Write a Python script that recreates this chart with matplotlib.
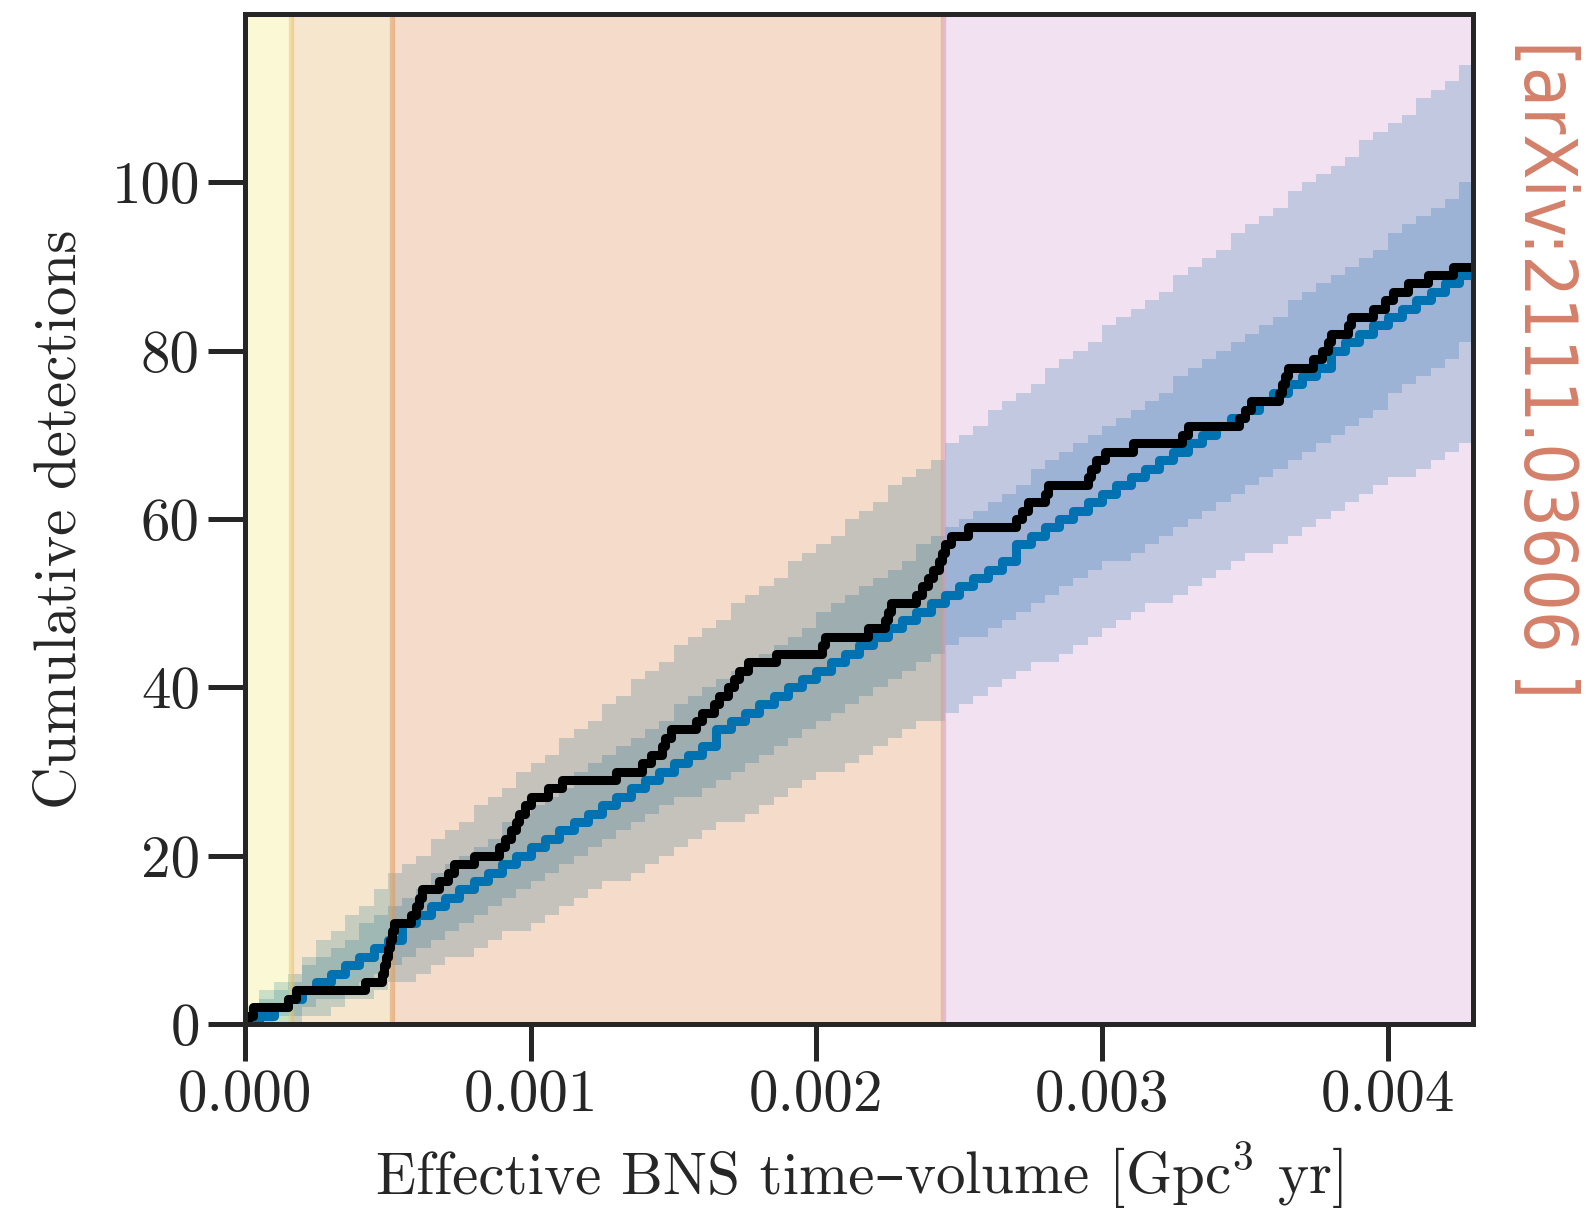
import numpy as np
import matplotlib
matplotlib.use('Agg')
import matplotlib.pyplot as plt
from matplotlib.offsetbox import TextArea, HPacker, AnchoredOffsetbox

plt.rcParams['font.family'] = ['cmr10', 'DejaVu Serif']
plt.rcParams['mathtext.fontset'] = 'cm'
plt.rcParams['axes.formatter.use_mathtext'] = True

## expected counts (median and 1/2 sigma edges), sampled every 5e-5 Gpc^3 yr
median = [0, 1, 2, 3, 4, 5, 6, 7, 8, 9, 10,
          12, 13, 14, 15, 16, 17, 18, 19, 20, 21,
          22, 23, 24, 25, 26, 27, 28, 29, 30, 31,
          32, 33, 35, 36, 37, 38, 39, 40, 41, 42,
          43, 44, 45, 46, 47, 48, 49, 50, 51, 52,
          53, 54, 55, 57, 58, 59, 60, 61, 62, 63,
          64, 65, 66, 67, 68, 69, 70, 71, 72, 73,
          74, 75, 76, 77, 78, 80, 81, 82, 83, 84,
          85, 86, 87, 88, 89, 90]
upper_1sig = [1, 3, 4, 5, 7, 8, 9, 10, 12, 13, 14,
              15, 16, 18, 19, 20, 21, 22, 24, 25, 26,
              27, 28, 30, 31, 32, 33, 34, 35, 36, 38,
              39, 40, 41, 42, 43, 44, 45, 46, 47, 49,
              50, 51, 52, 53, 54, 55, 57, 58, 59, 60,
              61, 62, 63, 64, 66, 67, 68, 69, 70, 71,
              72, 73, 74, 75, 77, 78, 79, 80, 81, 82,
              83, 84, 86, 87, 88, 89, 90, 91, 92, 94,
              95, 96, 97, 98, 100, 100]
lower_1sig = [0, 0, 1, 1, 2, 3, 3, 4, 5, 6, 7,
              8, 9, 10, 11, 12, 13, 14, 15, 16, 17,
              18, 19, 20, 21, 22, 23, 24, 25, 26, 27,
              27, 28, 29, 30, 31, 32, 33, 34, 35, 36,
              37, 38, 39, 40, 41, 42, 43, 44, 45, 46,
              46, 47, 48, 49, 50, 51, 52, 53, 54, 55,
              55, 56, 57, 58, 59, 60, 61, 62, 63, 64,
              65, 66, 67, 68, 69, 70, 71, 72, 73, 75,
              76, 77, 78, 79, 81, 81]
upper_2sig = [2, 4, 5, 6, 8, 10, 11, 13, 14, 16, 18,
              19, 20, 22, 23, 24, 26, 27, 28, 30, 31,
              32, 34, 35, 36, 38, 39, 41, 42, 43, 45,
              46, 47, 48, 50, 51, 52, 53, 55, 56, 57,
              58, 60, 61, 62, 64, 65, 66, 67, 69, 70,
              71, 73, 74, 75, 76, 78, 79, 80, 81, 83,
              84, 85, 86, 87, 89, 90, 91, 92, 94, 95,
              96, 97, 99, 100, 101, 102, 103, 105, 106, 107,
              108, 110, 111, 112, 114, 115]
lower_2sig = [0, 0, 0, 0, 1, 1, 2, 3, 3, 4, 5,
              5, 6, 7, 8, 8, 9, 10, 11, 11, 12,
              13, 14, 15, 16, 17, 17, 18, 19, 20, 21,
              22, 23, 24, 24, 25, 26, 27, 28, 29, 30,
              30, 31, 32, 33, 34, 35, 36, 36, 37, 38,
              39, 40, 41, 42, 43, 43, 44, 45, 46, 47,
              48, 49, 50, 50, 51, 52, 53, 54, 55, 56,
              56, 57, 58, 59, 60, 61, 62, 63, 64, 65,
              65, 66, 67, 68, 69, 69]
vt_step = 5e-5
vt_grid = np.arange(len(median)) * vt_step

## time-volume of each detection (cumulative count steps)
event_vt = [0.00001, 0.000028, 0.00015, 0.00018, 0.00042, 0.00048, 0.000487, 0.000494, 0.0005, 0.000507,
            0.000514, 0.00052, 0.00058, 0.0006, 0.00061, 0.00062, 0.00068, 0.00071, 0.00073, 0.0008,
            0.00089, 0.00091, 0.00093, 0.00095, 0.00096, 0.00098, 0.001, 0.00106, 0.00111, 0.0013,
            0.00139, 0.00142, 0.00146, 0.00147, 0.00149, 0.00158, 0.0016, 0.00164, 0.00166, 0.00169,
            0.00171, 0.00173, 0.00176, 0.00186, 0.00202, 0.00203, 0.00218, 0.00224, 0.00225, 0.00226,
            0.00235, 0.00237, 0.00239, 0.00241, 0.00243, 0.00244, 0.00245, 0.00247, 0.00253, 0.0027,
            0.00272, 0.00274, 0.0028, 0.00281, 0.00295, 0.00296, 0.00298, 0.00301, 0.00311, 0.00328,
            0.0033, 0.00348, 0.0035, 0.00352, 0.00362, 0.00363, 0.00364, 0.00365, 0.00374, 0.00377,
            0.00379, 0.0038, 0.00386, 0.00387, 0.00395, 0.00399, 0.00402, 0.00407, 0.00414, 0.00423]
vt_max = 0.0043

## observing runs (O1, O2, O3a, O3b)
run_edges = [-1e-4, 0.000161, 0.000515, 0.002442, 0.0045]
run_colors = ['#f5e87a', '#e4af5f', '#de8a52', '#d79ed0']

x_ticks = [0.0, 0.001, 0.002, 0.003, 0.004]
y_ticks = [0, 20, 40, 60, 80, 100]

fs = 42.5
ink = '#262626'

## plot
fig = plt.figure(figsize=(15.87, 12.11), dpi=100)
ax = fig.add_axes([0.1544, 0.1544, 0.774, 0.834])

ax.fill_between(vt_grid, lower_2sig, upper_2sig, step='post', color='#badbe8', lw=0, zorder=1)
ax.fill_between(vt_grid, lower_1sig, upper_1sig, step='post', color='#83bdd8', lw=0, zorder=1.1)

for i in range(len(run_colors)):
    ax.axvspan(run_edges[i], run_edges[i + 1], ymin=-0.1, ymax=1.1, facecolor=run_colors[i],
               edgecolor=run_colors[i], alpha=0.3, lw=3.8, zorder=2)

ax.plot(vt_grid, median, drawstyle='steps-post', color='#0072b2', lw=6.5,
        solid_joinstyle='round', solid_capstyle='round', zorder=3)

obs_x = [0.0] + event_vt + [vt_max]
obs_y = list(range(len(event_vt) + 1)) + [len(event_vt)]
ax.plot(obs_x, obs_y, drawstyle='steps-post', color='k', lw=6.5,
        solid_joinstyle='round', solid_capstyle='round', zorder=4)

ax.set_xlim(0, vt_max)
ax.set_ylim(0, 120)
ax.set_xticks(x_ticks)
ax.set_xticklabels(['%.3f' % t for t in x_ticks])
ax.set_yticks(y_ticks)
ax.set_yticklabels([str(t) for t in y_ticks])

for s in ax.spines.values():
    s.set_linewidth(3.6)
    s.set_color(ink)
    s.set_zorder(5)
ax.tick_params(direction='out', length=26.5, width=3.6, pad=6, labelsize=fs,
               color=ink, labelcolor=ink)

ax.set_ylabel('Cumulative detections', fontsize=fs, color=ink, labelpad=17)

## x label: cmr10 has no en dash, so that one glyph comes from DejaVu Serif
tp = dict(fontsize=fs, color=ink)
xlab = HPacker(children=[TextArea('Effective BNS time', textprops=dict(tp, family='cmr10')),
                         TextArea('\u2013', textprops=dict(tp, family='DejaVu Serif')),
                         TextArea('volume [Gpc$^3$ yr]', textprops=dict(tp, family='cmr10'))],
               align='baseline', pad=0, sep=0)
fig.add_artist(AnchoredOffsetbox(loc='center', child=xlab, frameon=False, pad=0, borderpad=0,
                                 bbox_to_anchor=(0.5414, 0.029), bbox_transform=fig.transFigure))

arx = fig.text(0.9735, 0.967, '[arXiv:2111.03606 ]', rotation=270, ha='center', va='top', fontsize=58,
               color='#d4806a', family='DejaVu Sans', fontstretch='condensed')
fig.canvas.draw()
h = arx.get_window_extent().height
if h > 660:
    arx.set_fontsize(58 * 658 / h)

fig.savefig('out.png', dpi=100)
